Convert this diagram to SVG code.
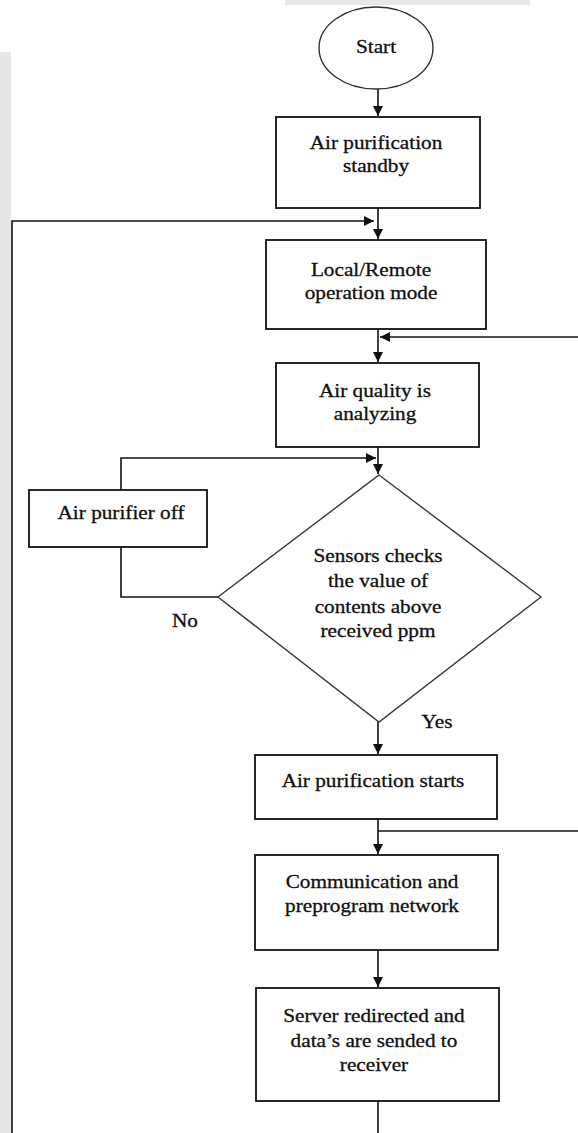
<svg xmlns="http://www.w3.org/2000/svg" width="578" height="1133" viewBox="0 0 578 1133">
<style>
.box{fill:#fff;stroke:#111;stroke-width:1.8}
.dia{fill:#fff;stroke:#3a3a3a;stroke-width:1.4}
.ell{fill:#fff;stroke:#333;stroke-width:1.4}
.ln{fill:none;stroke:#111;stroke-width:1.6}
.t{font-family:"Liberation Serif","Times New Roman",serif;font-size:18px;fill:#111;stroke:#111;stroke-width:0.3;text-anchor:middle}
</style>
<defs>
<marker id="ah" markerWidth="11" markerHeight="11" refX="10" refY="5.5" orient="auto" markerUnits="userSpaceOnUse">
<path d="M0,0.5 L10,5.5 L0,10.5 Z" fill="#111"/>
</marker>
</defs>
<rect x="0" y="0" width="578" height="1133" fill="#fff"/>
<rect x="0" y="52" width="11" height="1081" fill="#e6e6e6"/>
<rect x="285" y="0" width="245" height="5" fill="#e8e8e8"/>

<g id="connectors">
<path class="ln" d="M378 89 V116" marker-end="url(#ah)"/>
<path class="ln" d="M378 208 V239" marker-end="url(#ah)"/>
<path class="ln" d="M12 1133 V221 H374" marker-end="url(#ah)"/>
<path class="ln" d="M378 329 V362" marker-end="url(#ah)"/>
<path class="ln" d="M578 337 H380" marker-end="url(#ah)"/>
<path class="ln" d="M378 447 V474" marker-end="url(#ah)"/>
<path class="ln" d="M218 597 H121 V547"/>
<path class="ln" d="M121 490 V458 H376" marker-end="url(#ah)"/>
<path class="ln" d="M378 722 V754" marker-end="url(#ah)"/>
<path class="ln" d="M378 819 V854" marker-end="url(#ah)"/>
<path class="ln" d="M578 831 H378"/>
<path class="ln" d="M378 950 V987" marker-end="url(#ah)"/>
<path class="ln" d="M378 1101 V1133"/>
</g>

<g id="start">
<ellipse class="ell" cx="376" cy="48" rx="57" ry="41"/>
<text class="t" transform="translate(376 53) scale(1.18 1)">Start</text>
</g>

<g id="standby">
<rect class="box" x="276" y="117" width="204" height="91"/>
<text class="t" transform="translate(376 149) scale(1.18 1)">Air purification</text>
<text class="t" transform="translate(376 172) scale(1.18 1)">standby</text>
</g>

<g id="mode">
<rect class="box" x="266" y="240" width="220" height="89"/>
<text class="t" transform="translate(371 276) scale(1.18 1)">Local/Remote</text>
<text class="t" transform="translate(371 299) scale(1.18 1)">operation mode</text>
</g>

<g id="analyzing">
<rect class="box" x="276" y="363" width="203" height="84"/>
<text class="t" transform="translate(375 397) scale(1.18 1)">Air quality is</text>
<text class="t" transform="translate(375 420) scale(1.18 1)">analyzing</text>
</g>

<g id="off">
<rect class="box" x="29" y="490" width="178" height="57"/>
<text class="t" transform="translate(121 519) scale(1.18 1)">Air purifier off</text>
</g>

<g id="decision">
<polygon class="dia" points="379,475 541,597 379,722 218,597"/>
<text class="t" transform="translate(378 562) scale(1.18 1)">Sensors checks</text>
<text class="t" transform="translate(378 587) scale(1.18 1)">the value of</text>
<text class="t" transform="translate(378 613) scale(1.18 1)">contents above</text>
<text class="t" transform="translate(378 637) scale(1.18 1)">received ppm</text>
</g>

<g id="labels">
<text class="t" transform="translate(185 627) scale(1.18 1)">No</text>
<text class="t" transform="translate(437 728) scale(1.18 1)">Yes</text>
</g>

<g id="starts">
<rect class="box" x="255" y="755" width="242" height="64"/>
<text class="t" transform="translate(373 787) scale(1.18 1)">Air purification starts</text>
</g>

<g id="network">
<rect class="box" x="255" y="855" width="243" height="95"/>
<text class="t" transform="translate(372 888) scale(1.18 1)">Communication and</text>
<text class="t" transform="translate(372 912) scale(1.18 1)">preprogram network</text>
</g>

<g id="server">
<rect class="box" x="256" y="988" width="243" height="113"/>
<text class="t" transform="translate(374 1022) scale(1.18 1)">Server redirected and</text>
<text class="t" transform="translate(374 1047) scale(1.18 1)">data’s are sended to</text>
<text class="t" transform="translate(374 1071) scale(1.18 1)">receiver</text>
</g>
</svg>
